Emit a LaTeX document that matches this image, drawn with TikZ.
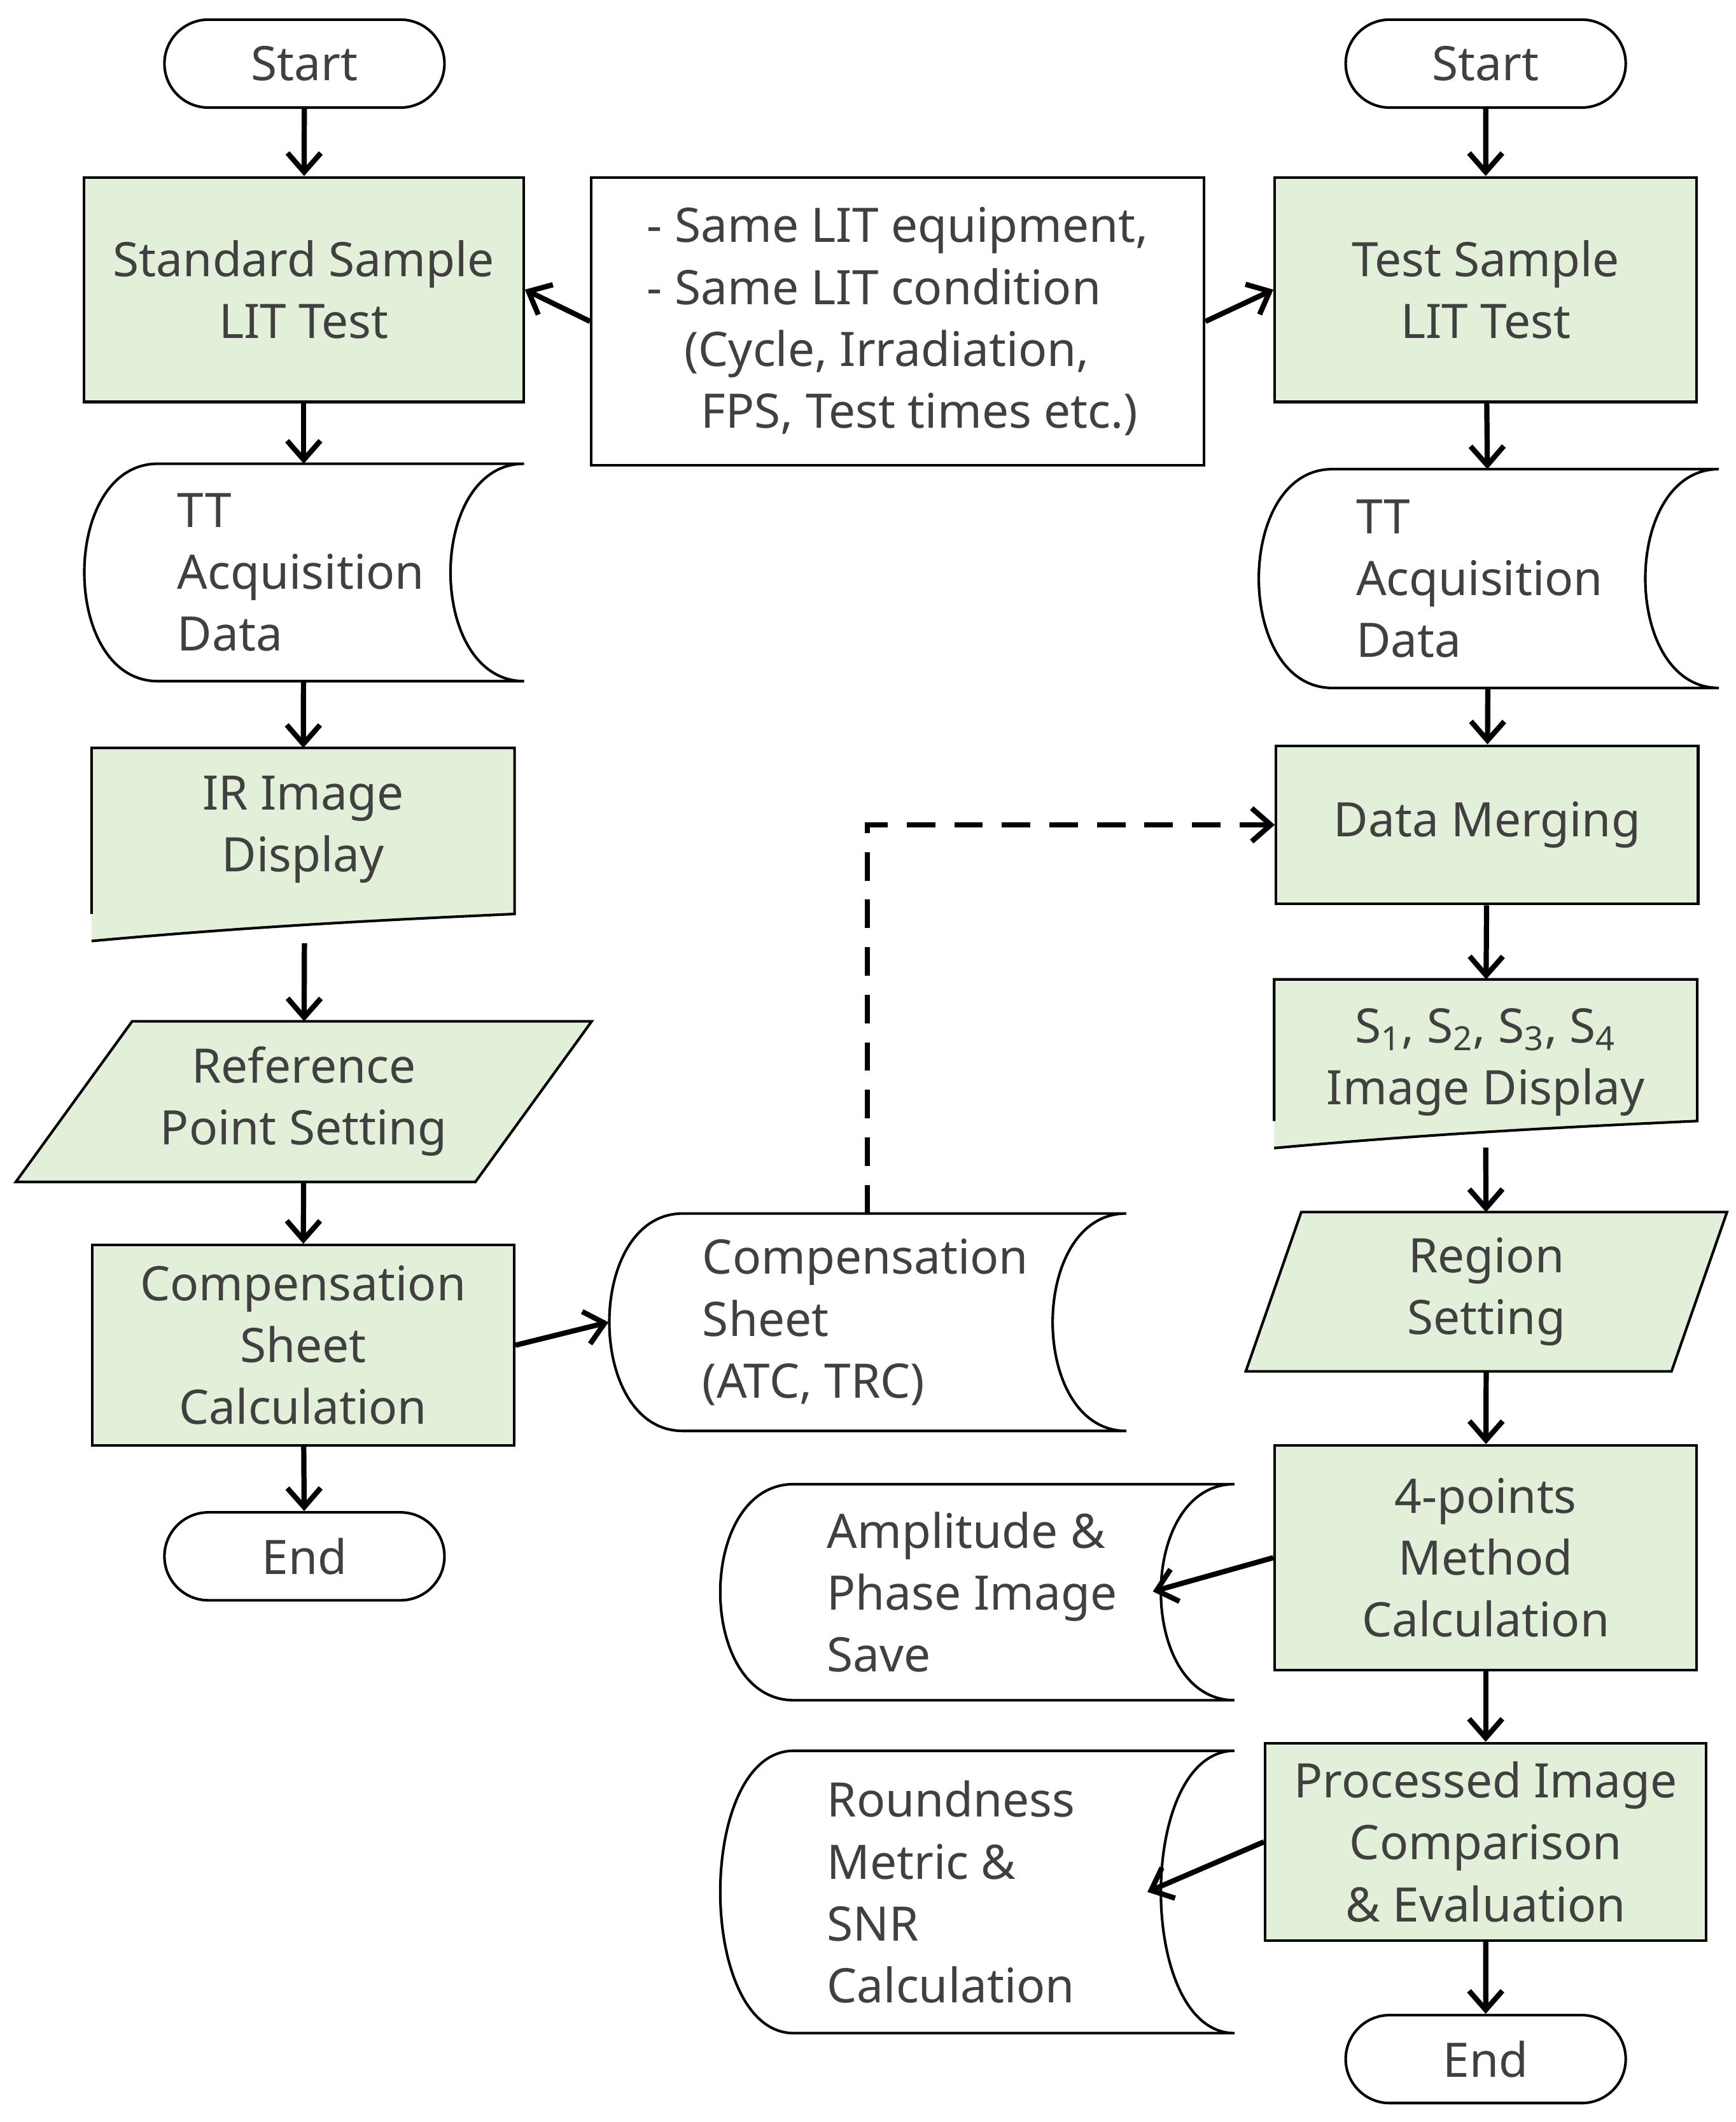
\documentclass[tikz,border=0pt]{standalone}
\usepackage{fontspec}
\setmainfont{Noto Sans}
\usetikzlibrary{arrows.meta,shapes.misc}
\definecolor{boxg}{HTML}{E2F0D9}
\definecolor{txt}{HTML}{404040}
\newcommand\sdata[1]{\draw[shp] ([xshift=1.1cm]#1.north west) -- (#1.north east) .. controls +(-1.45cm,0) and +(-1.45cm,0) .. (#1.south east) -- ([xshift=1.1cm]#1.south west) .. controls +(-1.45cm,0) and +(-1.45cm,0) .. cycle;}
\newcommand\docshape[2]{\draw[shp,fill=boxg] (#1.south west) -- (#1.north west) -- (#1.north east) -- (#1.south east) .. controls +(-2.2cm,-0.1cm) and +(2.2cm,0.2cm) .. ([yshift=-#2]#1.south west);}
\newcommand\para[2]{\draw[shp,fill=boxg] ([xshift=#2]#1.north west) -- (#1.north east) -- ([xshift=-#2]#1.south east) -- (#1.south west) -- cycle;}
\begin{document}
\begin{tikzpicture}[x=0.02cm,y=-0.02cm,
  every node/.style={font=\fontsize{20}{26}\selectfont,text=txt},
  shp/.style={line width=1.1pt},
  proc/.style={draw,shp,fill=boxg,rectangle,inner sep=0,align=center},
  term/.style={draw,shp,rounded rectangle,minimum width=4.14cm,minimum height=1.3cm,inner sep=0},
  sbox/.style={rectangle,inner sep=0},
  arr/.style={line width=2.2pt,-{Straight Barb[length=8pt,width=14pt,line width=2.2pt]}}]
\useasboundingbox (0,0) rectangle (1283,1568);
% left column
\node[term] (s1) at (225,47) {Start};
\node[proc,minimum width=6.5cm,minimum height=3.32cm] (a1) at (224.5,214) {Standard Sample\\LIT Test};
\node[sbox,minimum width=6.5cm,minimum height=3.2cm] (a2) at (224.5,423) {};
\sdata{a2}
\node[anchor=west,align=left] (a2t) at (125,423) {TT\\Acquisition\\Data};
\node[sbox,minimum width=6.24cm,minimum height=2.44cm] (a3) at (224,614) {};
\docshape{a3}{0.4cm}
\node[align=center] (a3t) at (224,613) {IR Image\\Display};
\coordinate (a3b) at (225,697);
\node[sbox,minimum width=8.5cm,minimum height=2.36cm] (a4) at (224.5,814) {};
\para{a4}{1.72cm}
\node[align=center] (a4t) at (224.5,814) {Reference\\Point Setting};
\node[proc,minimum width=6.24cm,minimum height=2.96cm] (a5) at (224,994) {Compensation\\Sheet\\Calculation};
\node[term] (a6) at (225,1150) {End};
% middle
\node[draw,shp,rectangle,minimum width=9.06cm,minimum height=4.26cm,align=left,inner sep=0] (m) at (663.5,237.5)
 {- Same LIT equipment,\\- Same LIT condition\\\hspace*{0.55cm}(Cycle, Irradiation,\\\hspace*{0.8cm}FPS, Test times etc.)};
\node[sbox,minimum width=7.64cm,minimum height=3.2cm] (c1) at (641,977) {};
\sdata{c1}
\node[anchor=west,align=left] (c1t) at (513,977) {Compensation\\Sheet\\(ATC, TRC)};
\node[sbox,minimum width=7.6cm,minimum height=3.18cm] (c2) at (722,1176.5) {};
\sdata{c2}
\node[anchor=west,align=left] (c2t) at (605,1176.5) {Amplitude \&\\Phase Image\\Save};
\node[sbox,minimum width=7.6cm,minimum height=4.16cm] (c3) at (722,1398) {};
\sdata{c3}
\node[anchor=west,align=left] (c3t) at (605,1398) {Roundness\\Metric \&\\SNR\\Calculation};
\coordinate (c2in) at (852,1176);
\coordinate (c3in) at (848,1398);
% right column
\node[term] (s2) at (1098,47) {Start};
\node[proc,minimum width=6.24cm,minimum height=3.32cm] (b1) at (1098,214) {Test Sample\\LIT Test};
\node[sbox,minimum width=6.8cm,minimum height=3.22cm] (b2) at (1100,427.5) {};
\sdata{b2}
\node[anchor=west,align=left] (b2t) at (996,427.5) {TT\\Acquisition\\Data};
\node[proc,minimum width=6.24cm,minimum height=2.34cm] (b3) at (1099,609.5) {Data Merging};
\node[sbox,minimum width=6.24cm,minimum height=2.08cm] (b4) at (1098,776) {};
\docshape{b4}{0.4cm}
\node[align=center] (b4t) at (1098,785) {S\textsubscript{1}, S\textsubscript{2}, S\textsubscript{3}, S\textsubscript{4}\\Image Display};
\coordinate (b4b) at (1098,848);
\node[sbox,minimum width=7.1cm,minimum height=2.34cm] (b5) at (1098.5,954.5) {};
\para{b5}{0.82cm}
\node[align=center] (b5t) at (1098.5,954.5) {Region\\Setting};
\node[proc,minimum width=6.24cm,minimum height=3.32cm] (b6) at (1098,1151) {4-points\\Method\\Calculation};
\node[proc,minimum width=6.52cm,minimum height=2.92cm] (b7) at (1098,1361) {Processed Image\\Comparison\\\& Evaluation};
\node[term] (b8) at (1098,1521.5) {End};
% connectors
\draw[arr] (s1) -- (a1);
\draw[arr] (a1) -- (a2);
\draw[arr] (a2) -- (a3);
\draw[arr] (a3b) -- (a4);
\draw[arr] (a4) -- (a5);
\draw[arr] (a5) -- (a6);
\draw[arr] (m.west) -- (a1.east);
\draw[arr] (m.east) -- (b1.west);
\draw[arr] (a5.east) -- (c1.west);
\draw[arr,dashed,dash pattern=on 12pt off 8pt] (c1.north) |- (b3.west);
\draw[arr] (s2) -- (b1);
\draw[arr] (b1) -- (b2);
\draw[arr] (b2) -- (b3);
\draw[arr] (b3) -- (b4);
\draw[arr] (b4b) -- (b5);
\draw[arr] (b5) -- (b6);
\draw[arr] (b6) -- (b7);
\draw[arr] (b7) -- (b8);
\draw[arr] (b6.west) -- (c2in);
\draw[arr] (b7.west) -- (c3in);
\end{tikzpicture}
\end{document}
